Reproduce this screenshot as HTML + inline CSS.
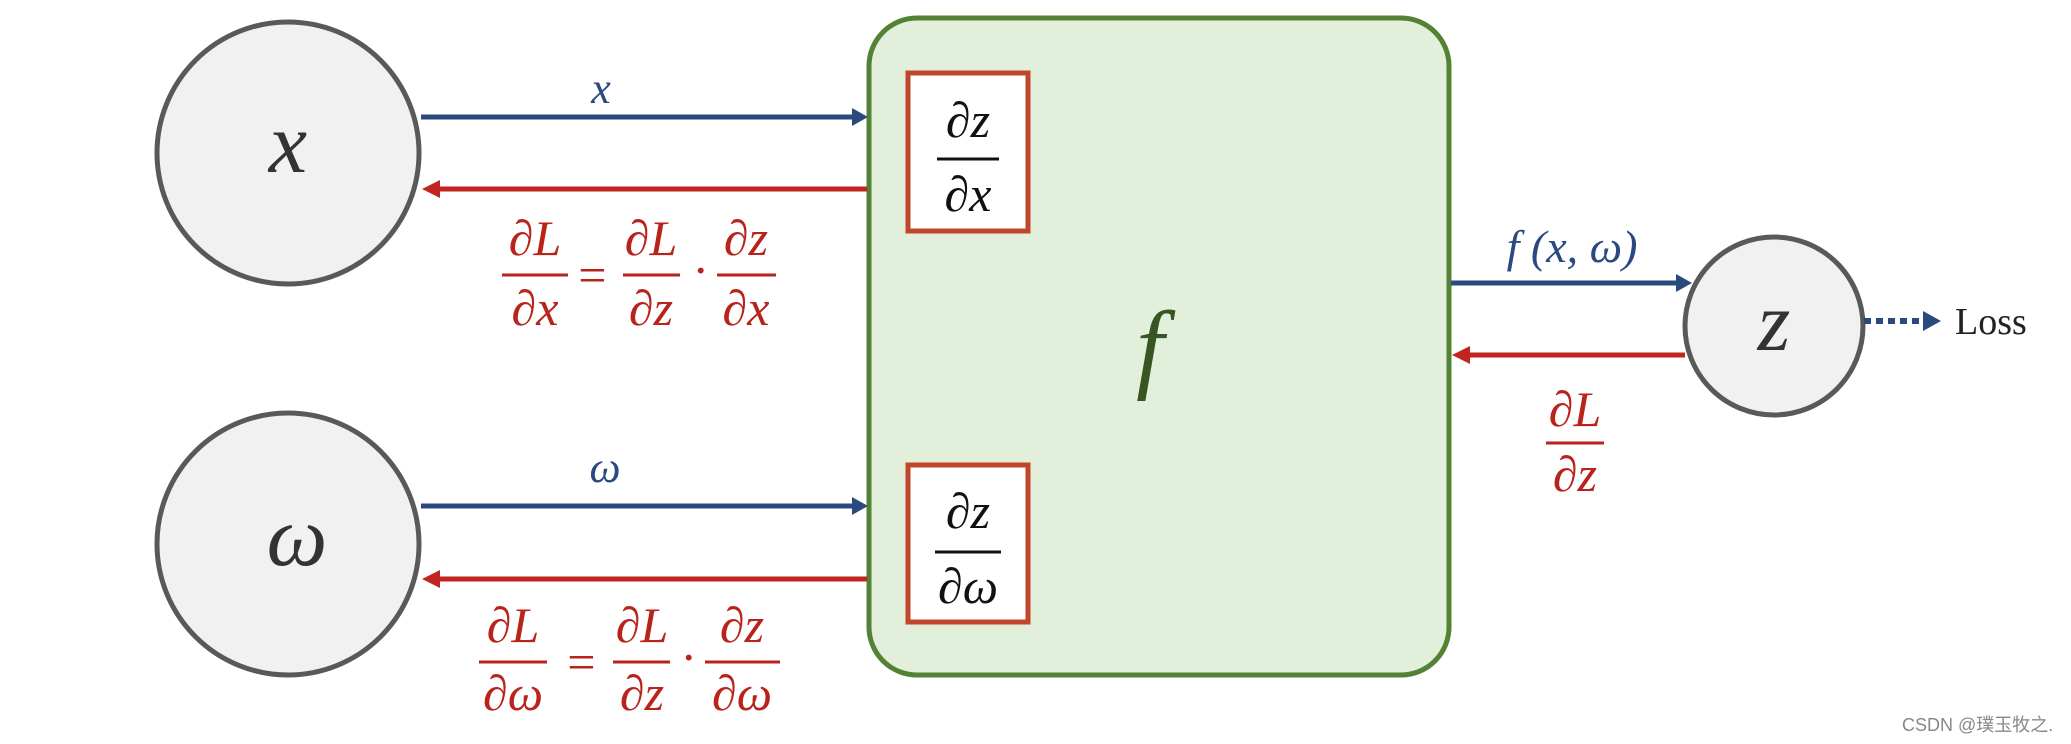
<!DOCTYPE html>
<html><head><meta charset="utf-8"><style>
html,body{margin:0;padding:0;background:#fff;}
svg{display:block;}
text{font-family:"Liberation Serif",serif;font-style:italic;}
.r{fill:#b8231c;font-size:50px;}
.b{fill:#2a4a7f;}
.k{fill:#111;font-size:50px;}
</style></head><body>
<svg width="2071" height="744" viewBox="0 0 2071 744" xmlns="http://www.w3.org/2000/svg">
<defs>
<marker id="ab" markerWidth="8" markerHeight="8" refX="7" refY="4" orient="auto" markerUnits="userSpaceOnUse"><path d="M0,0 L0,0"/></marker>
</defs>
<!-- circles -->
<circle cx="288" cy="153" r="131" fill="#f1f1f1" stroke="#595959" stroke-width="5"/>
<circle cx="288" cy="544" r="131" fill="#f1f1f1" stroke="#595959" stroke-width="5"/>
<circle cx="1774" cy="326" r="89" fill="#f1f1f1" stroke="#595959" stroke-width="5"/>
<!-- green box -->
<rect x="869" y="18" width="580" height="657" rx="48" fill="#e2efda" stroke="#548235" stroke-width="5"/>
<rect x="908" y="73" width="120" height="158" fill="#fff" stroke="#c0452a" stroke-width="5"/>
<rect x="908" y="465" width="120" height="157" fill="#fff" stroke="#c0452a" stroke-width="5"/>
<!-- arrows -->
<g stroke-width="5">
<line x1="421" y1="117" x2="852" y2="117" stroke="#2a4a7f"/>
<line x1="440" y1="189" x2="867" y2="189" stroke="#c0261f"/>
<line x1="421" y1="506" x2="852" y2="506" stroke="#2a4a7f"/>
<line x1="440" y1="579" x2="867" y2="579" stroke="#c0261f"/>
<line x1="1451" y1="283" x2="1676" y2="283" stroke="#2a4a7f"/>
<line x1="1470" y1="355" x2="1685" y2="355" stroke="#c0261f"/>
<line x1="1864" y1="321" x2="1925" y2="321" stroke="#2a4a7f" stroke-dasharray="7,5" stroke-width="6"/>
</g>
<path d="M852,108 L868,117 L852,126 Z" fill="#2a4a7f"/>
<path d="M852,497 L868,506 L852,515 Z" fill="#2a4a7f"/>
<path d="M1676,274 L1692,283 L1676,292 Z" fill="#2a4a7f"/>
<path d="M1923,311 L1941,321 L1923,331 Z" fill="#2a4a7f"/>
<path d="M440,180 L422,189 L440,198 Z" fill="#c0261f"/>
<path d="M440,570 L422,579 L440,588 Z" fill="#c0261f"/>
<path d="M1470,346 L1452,355 L1470,364 Z" fill="#c0261f"/>
<!-- node labels -->
<text x="288" y="172" text-anchor="middle" font-size="86" fill="#333">x</text>
<text x="297" y="565" text-anchor="middle" font-size="86" fill="#333">ω</text>
<text x="1774" y="350" text-anchor="middle" font-size="84" fill="#333">z</text>
<text x="1150" y="380" text-anchor="middle" font-size="100" fill="#375623">f</text>
<text x="1955" y="334" font-size="38" fill="#222" style="font-style:normal">Loss</text>
<!-- arrow labels -->
<text x="601" y="103" text-anchor="middle" font-size="44" class="b">x</text>
<text x="605" y="482" text-anchor="middle" font-size="44" class="b">ω</text>
<text x="1572" y="262" text-anchor="middle" font-size="46" class="b">f (x, ω)</text>
<!-- box fractions -->
<g class="k" text-anchor="middle">
<text x="968" y="137">∂z</text><text x="968" y="211">∂x</text>
<text x="968" y="528">∂z</text><text x="968" y="603">∂ω</text>
</g>
<line x1="937" y1="159" x2="999" y2="159" stroke="#111" stroke-width="3"/>
<line x1="935" y1="552" x2="1001" y2="552" stroke="#111" stroke-width="3"/>
<!-- red equations -->
<g class="r" text-anchor="middle">
<text x="535" y="255">∂L</text><text x="535" y="325">∂x</text>
<text x="592" y="292">=</text>
<text x="651" y="255">∂L</text><text x="651" y="325">∂z</text>
<text x="700" y="287">·</text>
<text x="746" y="255">∂z</text><text x="746" y="325">∂x</text>

<text x="513" y="642">∂L</text><text x="513" y="710">∂ω</text>
<text x="581" y="679">=</text>
<text x="642" y="642">∂L</text><text x="642" y="710">∂z</text>
<text x="688" y="674">·</text>
<text x="742" y="642">∂z</text><text x="742" y="710">∂ω</text>

<text x="1575" y="426">∂L</text><text x="1575" y="491">∂z</text>
</g>
<g stroke="#b8231c" stroke-width="3">
<line x1="502" y1="275" x2="568" y2="275"/>
<line x1="623" y1="275" x2="680" y2="275"/>
<line x1="717" y1="275" x2="776" y2="275"/>
<line x1="479" y1="662" x2="547" y2="662"/>
<line x1="613" y1="662" x2="670" y2="662"/>
<line x1="705" y1="662" x2="780" y2="662"/>
<line x1="1546" y1="443" x2="1604" y2="443"/>
</g>
<text x="1902" y="731" font-size="18" fill="#888" style="font-style:normal;font-family:'Liberation Sans','Noto Sans CJK SC',sans-serif">CSDN @璞玉牧之.</text>
</svg>
</body></html>
